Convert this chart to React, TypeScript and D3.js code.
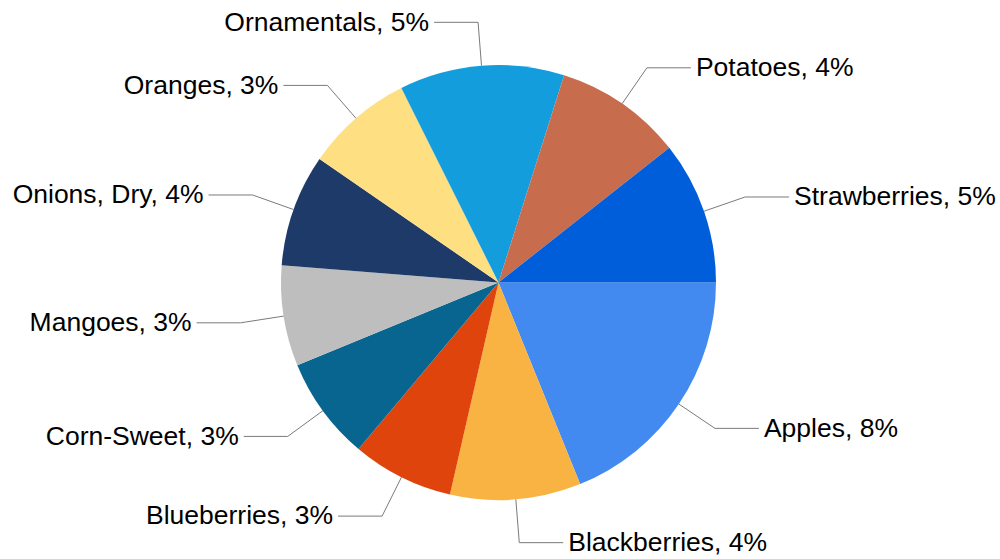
import React from "react";
import * as d3 from "d3";

const categories = [
  "Apples",
  "Blackberries",
  "Blueberries",
  "Corn-Sweet",
  "Mangoes",
  "Onions, Dry",
  "Oranges",
  "Ornamentals",
  "Potatoes",
  "Strawberries",
];
const values = [8.03, 4.13, 3.21, 3.26, 3.18, 3.55, 3.41, 5.21, 4.04, 4.52];
const percentLabels = [8, 4, 3, 3, 3, 4, 3, 5, 4, 5];
const colors = [
  "#428AF0",
  "#F9B342",
  "#E0440D",
  "#07658F",
  "#BEBEBE",
  "#1D3A69",
  "#FEDF82",
  "#149DDD",
  "#C86C4E",
  "#015EDB",
];

const W = 1000;
const H = 559;
const CX = 498.5;
const CY = 282.5;
const R = 217.5;
const ELBOW_R = 261;
const HLEN = 44;
const GAP = 5;

export default function App() {
  const data = categories.map((c, i) => ({ name: c, value: values[i], pct: percentLabels[i], color: colors[i] }));
  const pie = d3
    .pie<any>()
    .sort(null)
    .value((d: any) => d.value)
    .startAngle(Math.PI / 2)
    .endAngle(Math.PI / 2 + 2 * Math.PI);
  const arcs = pie(data);
  const arcGen = d3.arc<any>().innerRadius(0).outerRadius(R);

  return (
    <svg
      width={W}
      height={H}
      style={{ position: "absolute", left: 0, top: 0, display: "block", background: "#fff" }}
    >
      <g transform={`translate(${CX},${CY})`}>
        {arcs.map((a, i) => (
          <path key={i} d={arcGen(a) as string} fill={a.data.color} />
        ))}
        {arcs.map((a, i) => {
          const mid = (a.startAngle + a.endAngle) / 2;
          const sx = Math.sin(mid);
          const sy = -Math.cos(mid);
          const p0 = [R * sx, R * sy];
          const p1 = [ELBOW_R * sx, ELBOW_R * sy];
          const right = sx >= 0;
          const p2 = [p1[0] + (right ? HLEN : -HLEN), p1[1]];
          const tx = p2[0] + (right ? GAP : -GAP);
          return (
            <g key={"l" + i}>
              <polyline
                points={[p0, p1, p2].map((p) => p.join(",")).join(" ")}
                fill="none"
                stroke="#7a7a7a"
                strokeWidth={1}
              />
              <text
                x={tx}
                y={p1[1] + 8.3}
                textAnchor={right ? "start" : "end"}
                fontFamily="'Liberation Sans', Arial, sans-serif"
                fontSize={26.5}
                fill="#000"
              >
                {`${a.data.name}, ${a.data.pct}%`}
              </text>
            </g>
          );
        })}
      </g>
    </svg>
  );
}
